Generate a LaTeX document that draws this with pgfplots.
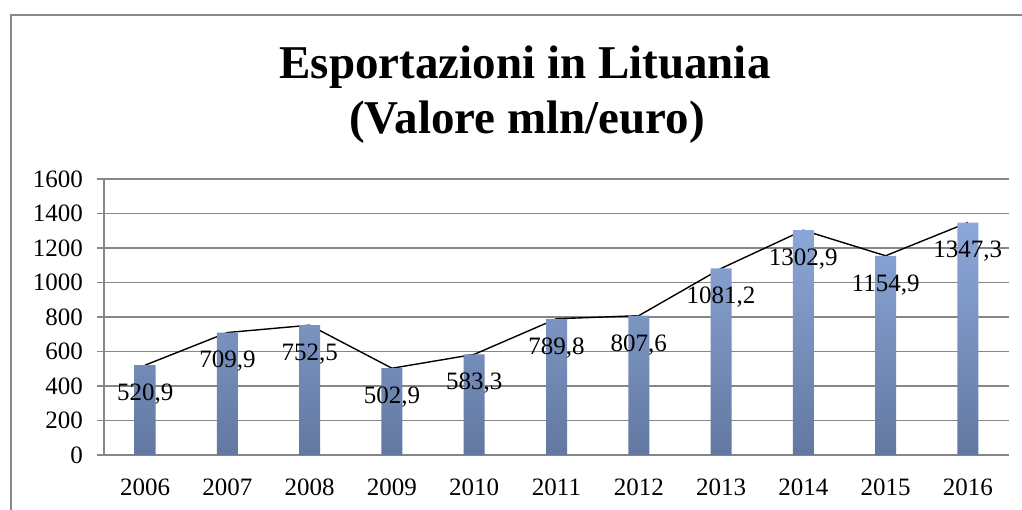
\documentclass[border=0pt]{standalone}
\usepackage{pgfplots}
\pgfplotsset{compat=1.18}
\usepackage{pgfplotstable}
\usepackage{fontspec}
\setmainfont{Liberation Serif}
\definecolor{gridc}{RGB}{134,134,134}
\definecolor{framec}{RGB}{136,136,136}
\definecolor{bartop}{RGB}{140,168,218}
\definecolor{barbot}{RGB}{98,120,160}
\pgfplotstableread{
x y lab
0 520.9 520,9
1 709.9 709,9
2 752.5 752,5
3 502.9 502,9
4 583.3 583,3
5 789.8 789,8
6 807.6 807,6
7 1081.2 1081,2
8 1302.9 1302,9
9 1154.9 1154,9
10 1347.3 1347,3
}\datatable
\begin{document}
\begin{tikzpicture}[x=1pt,y=1pt]
\useasboundingbox (0,0) rectangle (1022,510);
\fill[white] (0,0) rectangle (1022,510);
\draw[framec, line width=2.2pt] (11,-20) -- (11,495) -- (1040,495);
\node[anchor=base, font=\fontsize{47}{50}\selectfont\bfseries] at (525,431) {Esportazioni in Lituania};
\node[anchor=base, font=\fontsize{47}{50}\selectfont\bfseries] at (527,376) {(Valore mln/euro)};
\begin{axis}[
  at={(104pt,55pt)}, anchor=south west,
  scale only axis, width=905pt, height=276pt,
  xmin=-0.5, xmax=10.5, ymin=0, ymax=1600,
  ytick={0,200,...,1600},
  xtick={0,...,10},
  xticklabels={2006,2007,2008,2009,2010,2011,2012,2013,2014,2015,2016},
  ymajorgrids, grid style={gridc, line width=1.3pt},
  axis x line*=bottom, axis y line*=left,
  axis line style={gridc, line width=1.3pt, -},
  x axis line style={shorten <=-7pt},
  xtick style={draw=none},
  ytick style={gridc, line width=1.3pt},
  ytick align=outside, major tick length=7pt,
  tick label style={font=\fontsize{25}{28}\selectfont},
  yticklabel style={anchor=east, inner sep=0pt, xshift=-14pt},
  xticklabel style={anchor=base, inner sep=0pt, yshift=-41pt},
  /pgf/number format/assume math mode=true,
  /pgf/number format/1000 sep={},
  clip=false,
]
\addplot[black, line width=1.4pt, line join=bevel, mark=none] table[x=x, y=y] {\datatable};
\addplot[ybar, bar width=21pt, draw=none, top color=bartop, bottom color=barbot,
  point meta=explicit symbolic,
  nodes near coords,
  every node near coord/.append style={anchor=center, yshift=-29pt, font=\fontsize{25}{28}\selectfont, text=black}]
  table[x=x, y=y, meta=lab] {\datatable};
\end{axis}
\end{tikzpicture}
\end{document}
